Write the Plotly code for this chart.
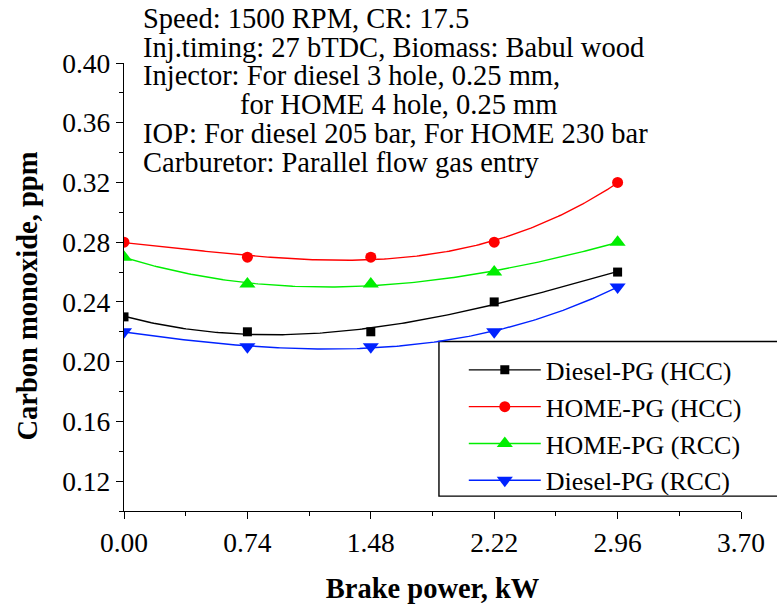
import numpy as np
import plotly.graph_objects as go

brake_power = [0.0, 0.74, 1.48, 2.22, 2.96]
diesel_hcc = [0.230, 0.220, 0.220, 0.240, 0.260]
home_hcc = [0.280, 0.270, 0.270, 0.280, 0.320]
home_rcc = [0.270, 0.252, 0.252, 0.260, 0.280]
diesel_rcc = [0.220, 0.210, 0.210, 0.220, 0.250]

x_ticks = [0.00, 0.74, 1.48, 2.22, 2.96, 3.70]
y_ticks = [0.12, 0.16, 0.20, 0.24, 0.28, 0.32, 0.36, 0.40]

series = [
    ("Diesel-PG (HCC)", diesel_hcc, "#000000", "square", 9),
    ("HOME-PG (HCC)", home_hcc, "#ff0000", "circle", 11),
    ("HOME-PG (RCC)", home_rcc, "#00ee00", "triangle-up", 14),
    ("Diesel-PG (RCC)", diesel_rcc, "#0022ff", "triangle-down", 14),
]

FONT = "Liberation Serif, Times New Roman, serif"
fig = go.Figure()
xs = np.array(brake_power)
xd = np.linspace(xs.min(), xs.max(), 200)
for name, ys, col, sym, sz in series:
    coef = np.polyfit(xs, np.array(ys), 3)
    fig.add_trace(go.Scatter(x=xd, y=np.polyval(coef, xd), mode="lines",
                             line=dict(color=col, width=1.4), showlegend=False,
                             hoverinfo="skip"))
    fig.add_trace(go.Scatter(x=brake_power, y=ys, mode="markers",
                             marker=dict(symbol=sym, size=sz, color=col),
                             showlegend=False, name=name))
    fig.add_trace(go.Scatter(x=[None], y=[None], mode="lines+markers", name=name,
                             line=dict(color=col, width=1.4),
                             marker=dict(symbol=sym, size=sz, color=col)))

axis_common = dict(showgrid=False, zeroline=False, showline=True, linecolor="black",
                   linewidth=1.4, ticks="outside", ticklen=7, tickwidth=1.4,
                   tickcolor="black", tickfont=dict(family=FONT, size=27.5, color="black"),
                   minor=dict(ticks="outside", ticklen=4, tickwidth=1.4, tickcolor="black"))

fig.update_xaxes(range=[0, 3.70], tickvals=x_ticks, ticktext=[f"{v:.2f}" for v in x_ticks],
                 minor_tickvals=[0.37, 1.11, 1.85, 2.59, 3.33],
                 title=dict(text="<b>Brake power, kW</b>", font=dict(family=FONT, size=28.5, color="black"),
                            standoff=20),
                 **axis_common)
fig.update_yaxes(range=[0.10, 0.40], tickvals=y_ticks, ticktext=[f"{v:.2f}" for v in y_ticks],
                 minor_tickvals=[0.10, 0.14, 0.18, 0.22, 0.26, 0.30, 0.34, 0.38],
                 **axis_common)

W, H = 777, 610
L, R, T, B = 124, 32, 63, 95
pw, ph = W - L - R, H - T - B

def px2x(px):
    return (px - L) / pw

def px2y(py):
    return (H - B - py) / ph

fig.add_annotation(text="<b>Carbon monoxide, ppm</b>", xref="paper", yref="paper",
                   x=px2x(27), y=px2y(298), textangle=-90, showarrow=False,
                   xanchor="center", yanchor="middle",
                   font=dict(family=FONT, size=28.5, color="black"))

ann_lines = [
    ("Speed: 1500 RPM, CR: 17.5", 141, 18),
    ("Inj.timing: 27 bTDC, Biomass: Babul wood", 141, 47),
    ("Injector: For diesel 3 hole, 0.25 mm,", 141, 76),
    ("for HOME 4 hole, 0.25 mm", 239, 105),
    ("IOP: For diesel 205 bar, For HOME 230 bar", 141, 134),
    ("Carburetor: Parallel flow gas entry", 141, 163),
]
for txt, px, py in ann_lines:
    fig.add_annotation(text=txt, xref="paper", yref="paper",
                       x=px2x(px), y=px2y(py),
                       xanchor="left", yanchor="middle", showarrow=False,
                       font=dict(family=FONT, size=28.5, color="black"))

# legend box
fig.add_shape(type="rect", xref="paper", yref="paper",
              x0=px2x(441), x1=px2x(800), y0=px2y(500), y1=px2y(344),
              line=dict(color="black", width=1.4), fillcolor="white", layer="below")

fig.update_layout(
    width=W, height=H, margin=dict(l=L, r=R, t=T, b=B),
    paper_bgcolor="white", plot_bgcolor="rgba(0,0,0,0)",
    font=dict(family=FONT, color="black"),
    legend=dict(x=px2x(466), y=px2y(349), xanchor="left", yanchor="top",
                bgcolor="rgba(0,0,0,0)", borderwidth=0,
                font=dict(family=FONT, size=26, color="black"),
                tracegroupgap=0, itemwidth=72),
)

fig.write_html("out.html")
